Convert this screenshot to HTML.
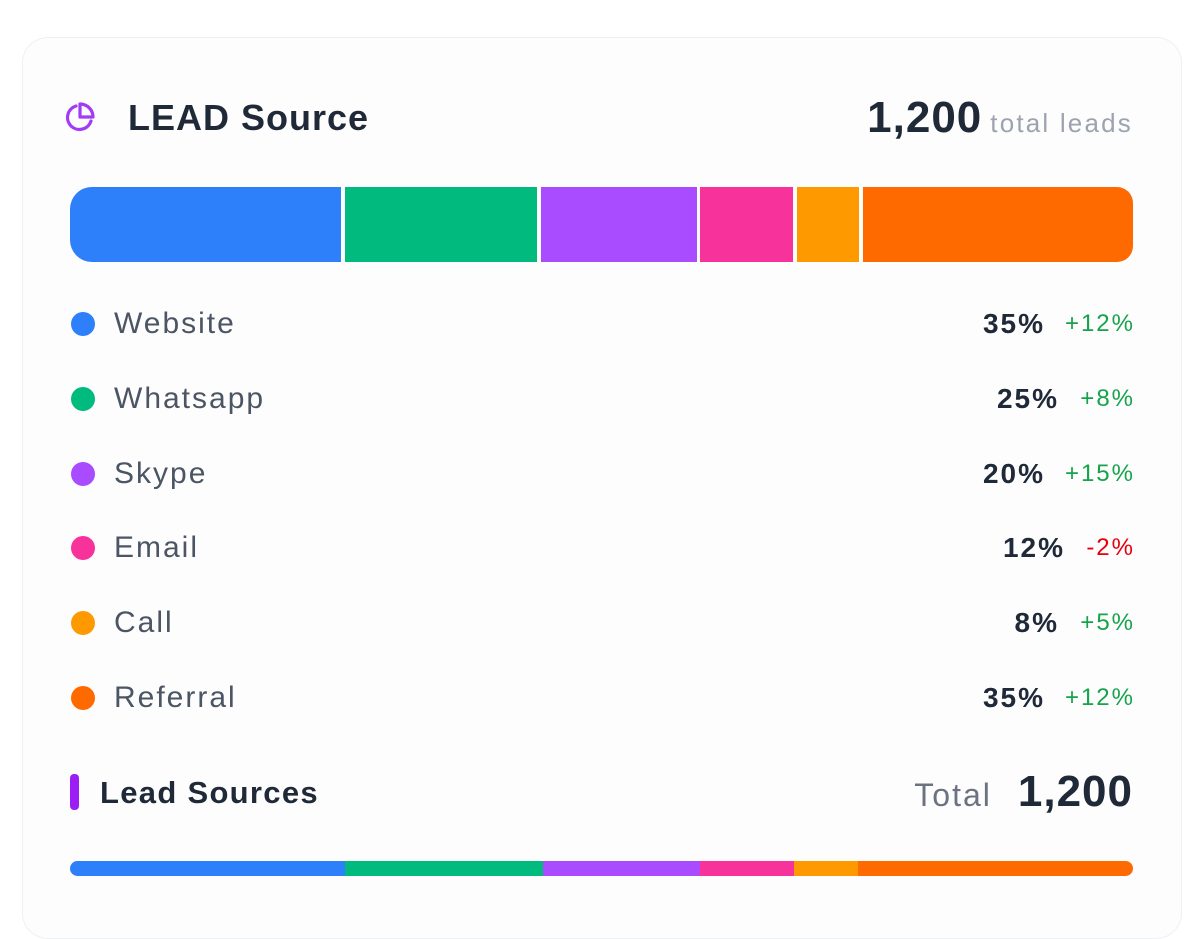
<!DOCTYPE html>
<html><head><style>
body{margin:0;width:1200px;height:900px;background:#fff;font-family:"Liberation Sans",sans-serif;position:relative;overflow:hidden}
.card{position:absolute;left:22px;top:37px;width:1158px;height:900px;border:1px solid #eef0f4;border-radius:26px;background:#fdfdfe}
.a{position:absolute;white-space:nowrap}
.seg{position:absolute;top:187px;height:75px}
.bs{position:absolute;top:861px;height:15px}
.dot{position:absolute;left:71px;width:24px;height:24px;border-radius:50%}
.lab{position:absolute;left:114px;font-size:30px;letter-spacing:2px;color:#4b5563;line-height:34px}
.pct{position:absolute;font-size:28px;letter-spacing:2px;margin-right:-2px;font-weight:bold;color:#1f2937;line-height:34px;text-align:right}
.dl{position:absolute;right:65px;font-size:24px;letter-spacing:2px;line-height:34px;text-align:right}
</style></head><body>
<div class="card"></div>
<svg class="a" style="left:61px;top:99px" width="36" height="38" viewBox="0 0 36 36"><path d="M15 6 A12 12 0 1 0 30 21" fill="none" stroke="#a23bf5" stroke-width="3.2" stroke-linecap="round"/><path d="M19 4 V17 H32 A13 13 0 0 0 19 4Z" fill="none" stroke="#a23bf5" stroke-width="3.2" stroke-linejoin="round"/></svg>
<div class="a" style="left:128px;top:97px;font-size:36px;letter-spacing:1px;font-weight:bold;color:#1f2937">LEAD Source</div>
<div class="a" style="right:67px;top:93px;font-size:26px;letter-spacing:2.2px;color:#9ca3af"><span style="font-size:44px;letter-spacing:1px;font-weight:bold;color:#1f2937;margin-right:8px">1,200</span>total leads</div>
<div class="seg" style="left:70px;width:271px;background:#2d7ffa;border-radius:22px 0 0 22px"></div>
<div class="seg" style="left:345px;width:192px;background:#00bb7d"></div>
<div class="seg" style="left:541px;width:156px;background:#a94bff"></div>
<div class="seg" style="left:700px;width:93px;background:#f7339b"></div>
<div class="seg" style="left:797px;width:62px;background:#fe9a00"></div>
<div class="seg" style="left:863px;width:270px;background:#ff6a00;border-radius:0 16px 16px 0"></div>

<div class="dot" style="top:312px;background:#2d7ffa"></div><div class="lab" style="top:307px">Website</div><div class="pct" style="right:157px;top:307px">35%</div><div class="dl" style="top:307px;color:#16a34a">+12%</div>
<div class="dot" style="top:387px;background:#00bb7d"></div><div class="lab" style="top:382px">Whatsapp</div><div class="pct" style="right:143px;top:382px">25%</div><div class="dl" style="top:382px;color:#16a34a">+8%</div>
<div class="dot" style="top:462px;background:#a94bff"></div><div class="lab" style="top:457px">Skype</div><div class="pct" style="right:157px;top:457px">20%</div><div class="dl" style="top:457px;color:#16a34a">+15%</div>
<div class="dot" style="top:536px;background:#f7339b"></div><div class="lab" style="top:531px">Email</div><div class="pct" style="right:137px;top:531px">12%</div><div class="dl" style="top:531px;color:#e7000b">-2%</div>
<div class="dot" style="top:611px;background:#fe9a00"></div><div class="lab" style="top:606px">Call</div><div class="pct" style="right:143px;top:606px">8%</div><div class="dl" style="top:606px;color:#16a34a">+5%</div>
<div class="dot" style="top:686px;background:#ff6a00"></div><div class="lab" style="top:681px">Referral</div><div class="pct" style="right:157px;top:681px">35%</div><div class="dl" style="top:681px;color:#16a34a">+12%</div>

<div class="a" style="left:70px;top:774px;width:9px;height:36px;border-radius:4px;background:#9b1ff5"></div>
<div class="a" style="left:100px;top:775px;font-size:31px;letter-spacing:1.3px;font-weight:bold;color:#1f2937">Lead Sources</div>
<div class="a" style="right:67px;top:768px;font-size:32px;letter-spacing:2px;color:#6b7280;line-height:48px">Total<span style="font-size:44px;letter-spacing:1px;font-weight:bold;color:#1f2937;margin-left:26px">1,200</span></div>

<div class="bs" style="left:70px;width:275px;background:#2d7ffa;border-radius:8px 0 0 8px"></div>
<div class="bs" style="left:345px;width:198px;background:#00bb7d"></div>
<div class="bs" style="left:543px;width:157px;background:#a94bff"></div>
<div class="bs" style="left:700px;width:94px;background:#f7339b"></div>
<div class="bs" style="left:794px;width:64px;background:#fe9a00"></div>
<div class="bs" style="left:858px;width:275px;background:#ff6a00;border-radius:0 8px 8px 0"></div>
</body></html>
